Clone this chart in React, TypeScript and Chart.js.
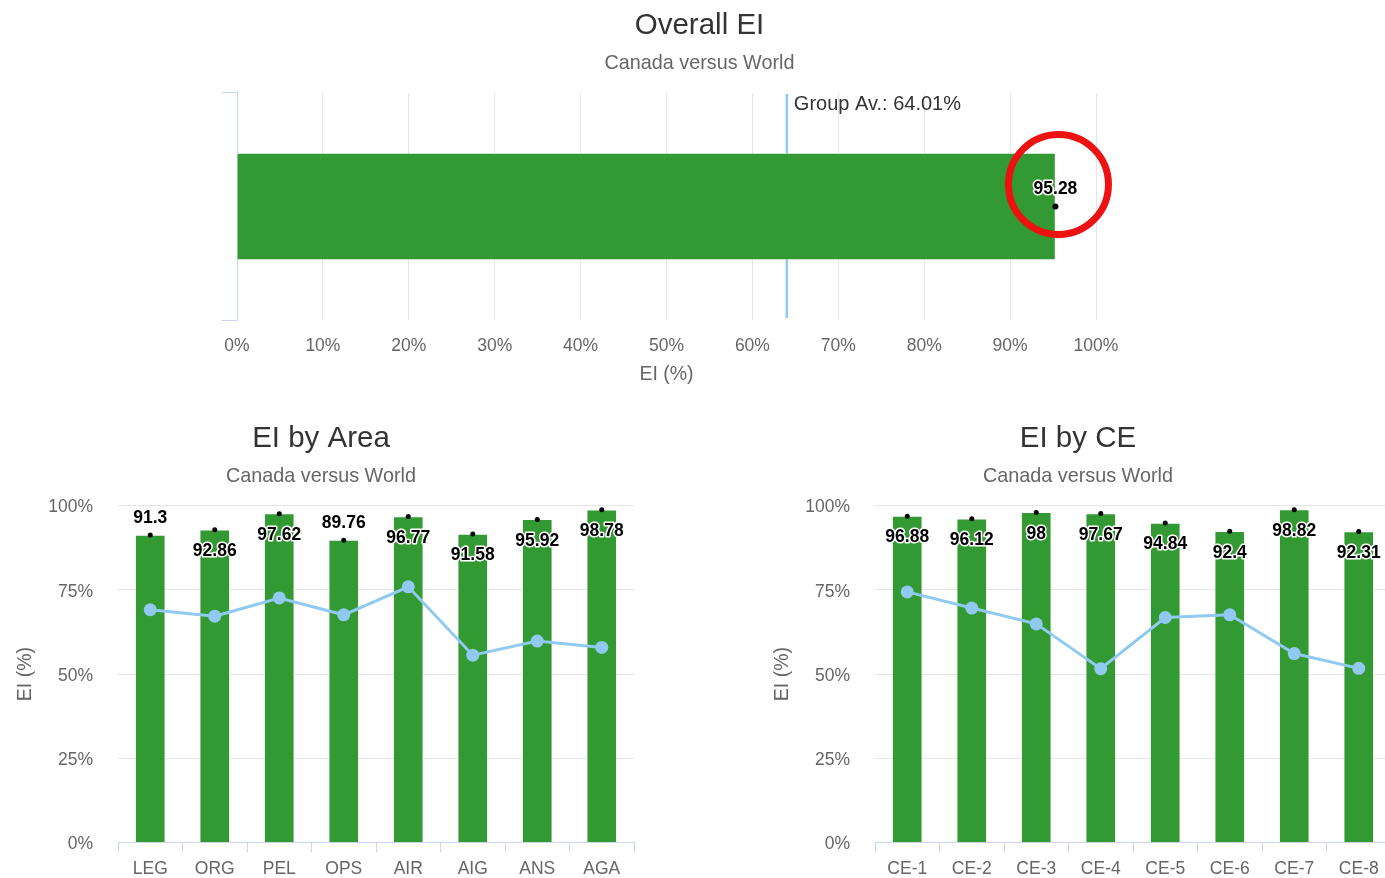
import React, { useEffect, useRef } from 'react';
import { Chart, registerables } from 'chart.js';

Chart.register(...registerables);

// ---------- data ----------
const overallCategories = [''];
const overallValues = [95.28];
const overallGroupAvg = 64.01;

const areaCategories = ['LEG', 'ORG', 'PEL', 'OPS', 'AIR', 'AIG', 'ANS', 'AGA'];
const areaValues = [91.3, 92.86, 97.62, 89.76, 96.77, 91.58, 95.92, 98.78];
const areaGroupAvg = [69.1, 67.2, 72.6, 67.6, 75.9, 55.6, 59.8, 57.9];

const ceCategories = ['CE-1', 'CE-2', 'CE-3', 'CE-4', 'CE-5', 'CE-6', 'CE-7', 'CE-8'];
const ceValues = [96.88, 96.12, 98, 97.67, 94.84, 92.4, 98.82, 92.31];
const ceGroupAvg = [74.4, 69.6, 64.9, 51.6, 66.8, 67.6, 56.1, 51.7];

const percentTicksTop = [0, 10, 20, 30, 40, 50, 60, 70, 80, 90, 100];
const percentTicksBottom = [0, 25, 50, 75, 100];

// label placement (style): true = above the point
const areaLabelAbove = [true, false, false, true, false, false, false, false];
const ceLabelAbove = [false, false, false, false, false, false, false, false];
const overallLabelAbove = [true];

// ---------- styles ----------
const FONT = '"Liberation Sans", Arial, Helvetica, sans-serif';
const GREEN = '#339933';
const BLUE = '#90caf0';
const AXIS = '#ccd6eb';
const GRID = '#e6e6e6';
const LABEL = '#666666';

Chart.defaults.font.family = FONT;

const valueLabelPlugin = {
  id: 'valueLabels',
  afterDatasetsDraw(chart: any, _args: any, opts: any) {
    const idx = opts.datasetIndex;
    const meta = chart.getDatasetMeta(idx);
    const ds = chart.data.datasets[idx];
    const ctx = chart.ctx;
    ctx.save();
    ctx.font = `bold 17.5px ${FONT}`;
    ctx.textAlign = 'center';
    ctx.textBaseline = 'middle';
    ctx.lineJoin = 'round';
    meta.data.forEach((el: any, i: number) => {
      const text = String(ds.data[i]);
      const y = el.y + (opts.above[i] ? -17 : 21.5);
      ctx.lineWidth = 3;
      ctx.strokeStyle = '#ffffff';
      ctx.strokeText(text, el.x, y);
      ctx.fillStyle = '#000000';
      ctx.fillText(text, el.x, y);
    });
    ctx.restore();
  },
};

const overallDecorPlugin = {
  id: 'overallDecor',
  beforeDatasetsDraw(chart: any) {
    const { ctx, chartArea, scales } = chart;
    const px = scales.x.getPixelForValue(overallGroupAvg);
    ctx.save();
    ctx.strokeStyle = BLUE;
    ctx.lineWidth = 2.5;
    ctx.beginPath();
    ctx.moveTo(px, chartArea.top + 1);
    ctx.lineTo(px, chartArea.bottom - 2);
    ctx.stroke();
    ctx.font = `20px ${FONT}`;
    ctx.fillStyle = '#333333';
    ctx.textAlign = 'left';
    ctx.textBaseline = 'middle';
    ctx.fillText(`Group Av.: ${overallGroupAvg}%`, px + 7, chartArea.top + 12);
    ctx.restore();
  },
  afterDraw(chart: any) {
    const el = chart.getDatasetMeta(1).data[0];
    if (!el) return;
    const ctx = chart.ctx;
    ctx.save();
    ctx.strokeStyle = '#ee1111';
    ctx.lineWidth = 7;
    ctx.beginPath();
    ctx.arc(el.x + 3, el.y - 22, 50, 0, Math.PI * 2);
    ctx.stroke();
    ctx.restore();
  },
};

const hiddenSpacer = (w: number, type: string) => ({
  type,
  position: 'right',
  display: true,
  grid: { display: false, drawTicks: false },
  ticks: { display: false },
  border: { display: false },
  title: { display: false },
  afterFit: (s: any) => {
    s.width = w;
  },
});

function overallConfig(): any {
  return {
    type: 'bar',
    data: {
      labels: overallCategories,
      datasets: [
        {
          type: 'bar',
          data: overallValues,
          backgroundColor: GREEN,
          borderColor: 'rgba(255,255,255,0.45)',
          borderWidth: 1,
          barThickness: 107,
          order: 3,
        },
        {
          type: 'line',
          data: overallValues,
          showLine: false,
          pointRadius: 3,
          pointBackgroundColor: '#000',
          pointBorderWidth: 0,
          order: 1,
        },
      ],
    },
    options: {
      indexAxis: 'y',
      responsive: false,
      animation: false,
      layout: { padding: { left: 0, right: 0, top: 0, bottom: 0 } },
      plugins: {
        legend: { display: false },
        tooltip: { enabled: false },
        title: {
          display: true,
          text: 'Overall EI',
          color: '#333333',
          font: { size: 29.5, weight: 'normal' },
          padding: { top: 8.3, bottom: 8.4 },
        },
        subtitle: {
          display: true,
          text: 'Canada versus World',
          color: LABEL,
          font: { size: 19.8 },
          padding: { top: 0, bottom: 17.1 },
        },
        valueLabels: { datasetIndex: 1, above: overallLabelAbove },
      },
      scales: {
        x: {
          type: 'linear',
          min: percentTicksTop[0],
          max: percentTicksTop[percentTicksTop.length - 1],
          afterBuildTicks: (s: any) => {
            s.ticks = percentTicksTop.map((v) => ({ value: v }));
          },
          ticks: {
            color: LABEL,
            font: { size: 17.5 },
            padding: 15.5,
            callback: (v: any) => v + '%',
          },
          grid: { color: GRID, drawTicks: false },
          border: { display: false },
          title: {
            display: true,
            text: 'EI (%)',
            color: LABEL,
            font: { size: 19.5 },
            padding: { top: 0, bottom: 13.2 },
          },
          afterFit: (s: any) => {
            s.height = 80;
          },
        },
        y: {
          type: 'category',
          ticks: { display: false },
          grid: { drawOnChartArea: false, drawTicks: true, tickLength: 15, offset: true, color: AXIS },
          border: { display: true, color: AXIS },
          afterFit: (s: any) => {
            s.width = 223;
          },
        },
        yR: hiddenSpacer(289, 'category'),
      },
    },
    plugins: [overallDecorPlugin, valueLabelPlugin],
  };
}

function bottomConfig(title: string, cats: string[], values: number[], avg: number[], above: boolean[]): any {
  return {
    type: 'bar',
    data: {
      labels: cats,
      datasets: [
        {
          type: 'bar',
          data: values,
          backgroundColor: GREEN,
          borderColor: 'rgba(255,255,255,0.45)',
          borderWidth: 1,
          barThickness: 30,
          order: 3,
        },
        {
          type: 'line',
          data: avg,
          borderColor: BLUE,
          backgroundColor: BLUE,
          borderWidth: 3,
          pointRadius: 6.5,
          pointBackgroundColor: BLUE,
          pointBorderWidth: 0,
          tension: 0,
          order: 2,
        },
        {
          type: 'line',
          data: values,
          showLine: false,
          pointRadius: 2.5,
          pointBackgroundColor: '#000',
          pointBorderWidth: 0,
          order: 1,
        },
      ],
    },
    options: {
      responsive: false,
      animation: false,
      layout: { padding: { left: 0, right: 0, top: 0, bottom: 0 } },
      plugins: {
        legend: { display: false },
        tooltip: { enabled: false },
        title: {
          display: true,
          text: title,
          color: '#333333',
          font: { size: 29.5, weight: 'normal' },
          padding: { top: 21.3, bottom: 8.4 },
        },
        subtitle: {
          display: true,
          text: 'Canada versus World',
          color: LABEL,
          font: { size: 19.8 },
          padding: { top: 0, bottom: 16.8 },
        },
        valueLabels: { datasetIndex: 2, above },
      },
      scales: {
        x: {
          type: 'category',
          ticks: { color: LABEL, font: { size: 17.5 }, padding: 5.8 },
          grid: { drawOnChartArea: false, drawTicks: true, tickLength: 10, offset: true, color: AXIS },
          border: { display: true, color: AXIS },
          afterFit: (s: any) => {
            s.height = 32.3;
          },
        },
        y: {
          type: 'linear',
          min: percentTicksBottom[0],
          max: percentTicksBottom[percentTicksBottom.length - 1],
          afterBuildTicks: (s: any) => {
            s.ticks = percentTicksBottom.map((v) => ({ value: v }));
          },
          ticks: {
            color: LABEL,
            font: { size: 17.5 },
            padding: 25,
            labelOffset: 2,
            callback: (v: any) => v + '%',
          },
          grid: { color: GRID, drawTicks: false },
          border: { display: false },
          title: {
            display: true,
            text: 'EI (%)',
            color: LABEL,
            font: { size: 19.5 },
            padding: { top: 13.5, bottom: 0 },
          },
          afterFit: (s: any) => {
            s.width = 118;
          },
        },
        yR: hiddenSpacer(8, 'linear'),
      },
    },
    plugins: [valueLabelPlugin],
  };
}

function ChartCanvas({ make, width, height }: { make: () => any; width: number; height: number }) {
  const ref = useRef<HTMLCanvasElement>(null);
  useEffect(() => {
    const chart = new Chart(ref.current as HTMLCanvasElement, make());
    return () => chart.destroy();
  }, []);
  return <canvas ref={ref} width={width} height={height} style={{ display: 'block', width, height }} />;
}

export default function App() {
  return (
    <div
      style={{
        position: 'absolute',
        left: 0,
        top: 0,
        width: 1385,
        height: 878,
        overflow: 'hidden',
        background: '#ffffff',
      }}
    >
      <div style={{ position: 'absolute', left: 14, top: 0 }}>
        <ChartCanvas make={overallConfig} width={1371} height={400} />
      </div>
      <div style={{ position: 'absolute', left: 0, top: 400 }}>
        <ChartCanvas
          make={() => bottomConfig('EI by Area', areaCategories, areaValues, areaGroupAvg, areaLabelAbove)}
          width={642}
          height={478}
        />
      </div>
      <div style={{ position: 'absolute', left: 757, top: 400, width: 628, height: 478, overflow: 'hidden' }}>
        <ChartCanvas
          make={() => bottomConfig('EI by CE', ceCategories, ceValues, ceGroupAvg, ceLabelAbove)}
          width={642}
          height={478}
        />
      </div>
    </div>
  );
}
